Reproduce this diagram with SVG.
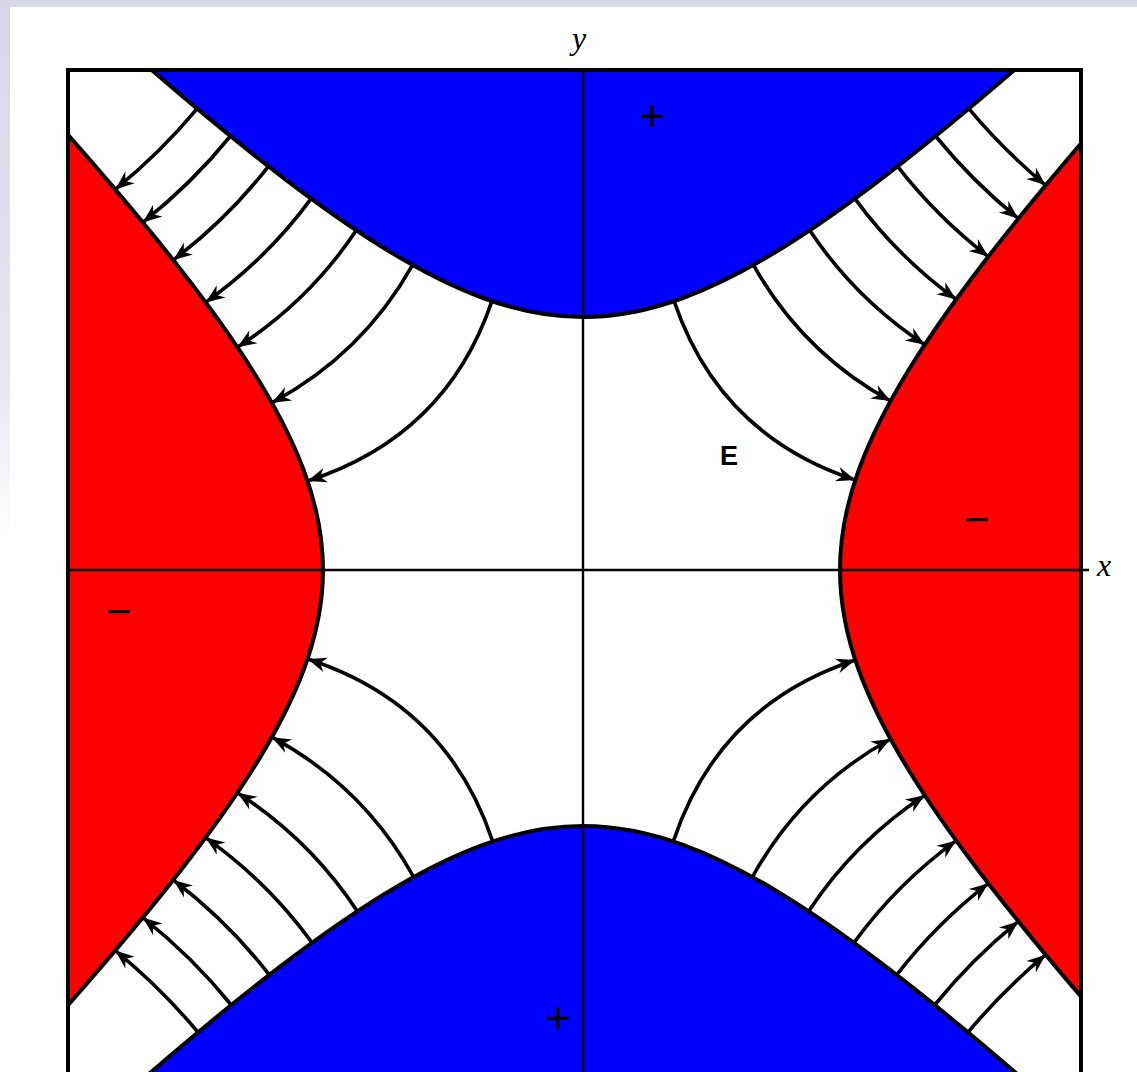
<svg xmlns="http://www.w3.org/2000/svg" width="1137" height="1072" viewBox="0 0 1137 1072">
<defs>
<linearGradient id="leftband" x1="0" y1="0" x2="0" y2="1">
<stop offset="0" stop-color="#d6d6e8"/>
<stop offset="0.35" stop-color="#e6e6f0"/>
<stop offset="0.5" stop-color="#ffffff"/>
</linearGradient>
<clipPath id="frameclip"><rect x="68" y="70" width="1013" height="1010"/></clipPath>
<marker id="ah" markerUnits="userSpaceOnUse" viewBox="-22 -10 24 20" markerWidth="24" markerHeight="20" refX="0" refY="0" orient="auto">
<path d="M0,0 L-19,-7.5 L-13,0 L-19,7.5 Z" fill="#000"/>
</marker>
<style>
.fl{fill:none;stroke:#000;stroke-width:3.6;marker-end:url(#ah)}
.blue{fill:#0000ff;stroke:#000;stroke-width:4;stroke-linejoin:round}
.red{fill:#ff0000;stroke:#000;stroke-width:4;stroke-linejoin:round}
.axis{stroke:#000;stroke-width:2.4;fill:none}
.lbl{font-family:"Liberation Serif",serif;font-style:italic;font-size:32px;fill:#000}
.sign{font-family:"Liberation Serif",serif;font-weight:bold;font-size:46px;fill:#000;text-anchor:middle}
</style>
</defs>
<rect x="0" y="0" width="1137" height="1072" fill="#ffffff"/>
<rect x="0" y="0" width="10" height="1072" fill="url(#leftband)"/>
<rect x="0" y="0" width="1137" height="7" fill="#d6d6e8"/>

<g id="field-lines">
<path class="fl" d="M491.9,301.1 Q446.1,436.3 307.6,481.0"/>
<path class="fl" d="M412.6,264.9 Q362.8,354.0 271.9,402.8"/>
<path class="fl" d="M356.3,230.3 Q309.2,300.9 237.4,347.2"/>
<path class="fl" d="M311.1,198.6 Q266.9,258.9 205.6,302.4"/>
<path class="fl" d="M268.4,166.3 Q227.1,219.3 173.3,260.0"/>
<path class="fl" d="M230.5,136.0 Q191.5,184.0 142.8,222.4"/>
<path class="fl" d="M197.2,108.6 Q160.2,152.9 115.3,189.4"/>
<path class="fl" d="M674.1,301.1 Q719.5,435.2 855.3,480.0"/>
<path class="fl" d="M753.4,264.9 Q802.3,352.4 890.6,401.0"/>
<path class="fl" d="M809.7,230.3 Q855.6,299.1 924.8,344.7"/>
<path class="fl" d="M854.9,198.6 Q897.6,256.9 956.2,299.4"/>
<path class="fl" d="M897.6,166.3 Q937.2,217.2 988.3,256.6"/>
<path class="fl" d="M935.5,136.0 Q972.6,181.6 1018.4,218.6"/>
<path class="fl" d="M968.8,108.6 Q1003.8,150.4 1045.7,185.3"/>
<path class="fl" d="M492.7,841.4 Q447.0,704.0 307.6,659.0"/>
<path class="fl" d="M413.6,877.0 Q363.6,786.4 271.9,737.2"/>
<path class="fl" d="M357.3,911.2 Q309.9,839.6 237.4,792.8"/>
<path class="fl" d="M312.1,942.8 Q267.6,881.6 205.6,837.6"/>
<path class="fl" d="M269.3,974.9 Q227.7,921.1 173.3,880.0"/>
<path class="fl" d="M231.3,1005.0 Q192.0,956.4 142.8,917.6"/>
<path class="fl" d="M198.0,1032.3 Q160.7,987.5 115.3,950.6"/>
<path class="fl" d="M673.3,841.4 Q718.6,705.1 855.3,660.0"/>
<path class="fl" d="M752.4,877.0 Q801.5,788.0 890.6,739.0"/>
<path class="fl" d="M808.7,911.2 Q854.9,841.4 924.8,795.3"/>
<path class="fl" d="M853.9,942.8 Q896.9,883.6 956.2,840.6"/>
<path class="fl" d="M896.7,974.9 Q936.7,923.3 988.3,883.4"/>
<path class="fl" d="M934.7,1005.0 Q972.1,958.8 1018.4,921.4"/>
<path class="fl" d="M968.0,1032.3 Q1003.3,990.0 1045.7,954.7"/>
</g>

<g clip-path="url(#frameclip)">
<g id="electrode-top">
<path class="blue" d="M151.7,70 Q225.3,133.5 283,177.6 Q337.9,219.5 383,247.5 Q437.3,281.15 483,298 Q534.9,317 583,317 Q631.1,317 683,298 Q728.7,281.15 783,247.5 Q828.1,219.5 883,177.6 Q940.7,133.5 1014.3,70 L1014.3,60 L151.7,60 Z"/>
</g>
<g id="electrode-bottom">
<path class="blue" d="M141.9,1080 Q221.5,1011.2 283,964.4 Q337.8,922.7 383,894.9 Q437.2,861.5 483,844.8 Q534.8,826 583,826 Q631.2,826 683,844.8 Q728.8,861.5 783,894.9 Q828.2,922.7 883,964.4 Q944.5,1011.2 1024.1,1080 L1024.1,1090 L141.9,1090 Z"/>
</g>
<g id="electrode-left">
<path class="red" d="M68,134.9 Q135.1,211 181.05,270 Q223.8,324.9 252.3,370 Q286.5,424.2 303.64,470 Q323,521.8 323,570 Q323,618.2 303.64,670 Q286.5,715.8 252.3,770 Q223.8,815.1 181.05,870 Q135.1,929 68,1005.1 L58,1005.1 L58,134.9 Z"/>
</g>
<g id="electrode-right">
<path class="red" d="M1082,142.3 Q1020.9,213.6 978.03,270 Q936.4,324.8 908.65,370 Q875.4,424.1 858.77,470 Q840,521.8 840,570 Q840,618.2 858.77,670 Q875.4,715.9 908.65,770 Q936.4,815.2 978.03,870 Q1020.9,926.4 1082,997.7 L1092,997.7 L1092,142.3 Z"/>
</g>
</g>

<g id="axes">
<line class="axis" x1="583" y1="70" x2="583" y2="1072"/>
<line class="axis" x1="68" y1="570" x2="1089" y2="570"/>
</g>
<g id="frame">
<path d="M68,1075 L68,70 L1081,70 L1081,1075" fill="none" stroke="#000" stroke-width="4"/>
</g>

<g id="labels">
<text class="lbl" x="572" y="49">y</text>
<text class="lbl" x="1097" y="576">x</text>
<text class="sign" x="652" y="131.5">+</text>
<text class="sign" x="558" y="1033.5">+</text>
<text class="sign" x="976.5" y="534.5">−</text>
<text class="sign" x="118.5" y="626.5">−</text>
<text x="720" y="465" font-family="Liberation Sans, Arial, sans-serif" font-weight="bold" font-size="27">E</text>
</g>
</svg>
